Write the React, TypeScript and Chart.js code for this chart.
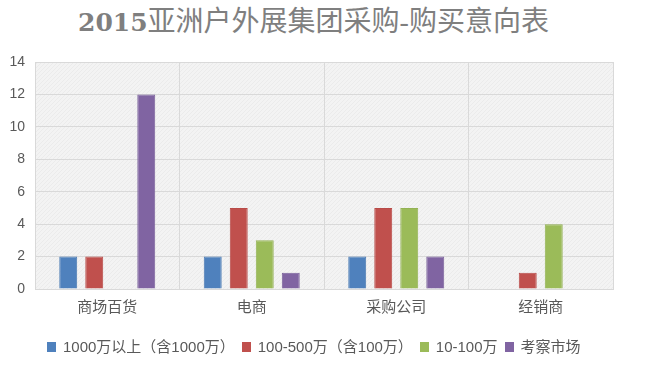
import React, { useEffect, useRef } from "react";
import { Chart, registerables } from "chart.js";

Chart.register(...registerables);

const TITLE_YEAR = "2015";
const TITLE_REST = "亚洲户外展集团采购-购买意向表";
const categories = ["商场百货", "电商", "采购公司", "经销商"];
const seriesNames = ["1000万以上（含1000万）", "100-500万（含100万）", "10-100万", "考察市场"];
const seriesColors = ["#4f81bd", "#c0504d", "#9bbb59", "#8064a2"];
const seriesBorders = ["#4a7ab3", "#b84b48", "#93b254", "#79609a"];
const over1000 = [2, 2, 2, null];
const from100to500 = [2, 5, 5, 1];
const from10to100 = [null, 3, 5, 4];
const inspecting = [12, 1, 2, null];
const seriesValues = [over1000, from100to500, from10to100, inspecting];
const yMin = 0;
const yMax = 14;
const yStep = 2;

const FONT = "'Liberation Sans', 'Noto Sans CJK SC', sans-serif";

function makePattern(ctx: CanvasRenderingContext2D) {
  const c = document.createElement("canvas");
  c.width = 4;
  c.height = 4;
  const p = c.getContext("2d")!;
  p.fillStyle = "#f3f3f3";
  p.fillRect(0, 0, 4, 4);
  p.fillStyle = "#ebebeb";
  for (let i = 0; i < 4; i++) p.fillRect(i, 3 - i, 1, 1);
  return ctx.createPattern(c, "repeat");
}

const plotBg = {
  id: "plotBg",
  beforeDraw(chart: any) {
    const { ctx, chartArea } = chart;
    if (!chartArea) return;
    ctx.save();
    ctx.fillStyle = makePattern(ctx) || "#f2f2f2";
    ctx.fillRect(chartArea.left, chartArea.top, chartArea.right - chartArea.left, chartArea.bottom - chartArea.top);
    ctx.restore();
  },
};

export default function App() {
  const ref = useRef<HTMLCanvasElement | null>(null);
  useEffect(() => {
    if (!ref.current) return;
    const chart = new Chart(ref.current, {
      type: "bar",
      data: {
        labels: categories,
        datasets: seriesNames.map((name, i) => ({
          label: name,
          data: seriesValues[i] as any,
          backgroundColor: seriesColors[i],
          borderColor: seriesBorders[i],
          borderWidth: 1,
          categoryPercentage: 0.72,
          barPercentage: 0.69,
        })),
      },
      options: {
        animation: false,
        responsive: false,
        maintainAspectRatio: false,
        layout: { padding: { left: 0, right: 37, top: 62, bottom: 56 } },
        plugins: {
          legend: { display: false },
          title: { display: false },
          tooltip: { enabled: false },
        },
        scales: {
          x: {
            offset: true,
            grid: { color: "#d9d9d9", offset: true, drawTicks: false, lineWidth: 1 },
            border: { color: "#d9d9d9" },
            ticks: { color: "#595959", font: { family: FONT, size: 15 }, padding: 10 },
            afterFit(scale: any) {
              scale.height = 28;
            },
          },
          y: {
            min: yMin,
            max: yMax,
            grid: { color: "#d9d9d9", drawTicks: false },
            border: { color: "#d9d9d9" },
            ticks: { stepSize: yStep, color: "#595959", font: { family: FONT, size: 14 }, padding: 10 },
            afterFit(scale: any) {
              scale.width = 35;
            },
          },
        },
      },
      plugins: [plotBg],
    });
    return () => chart.destroy();
  }, []);

  return (
    <div style={{ position: "fixed", left: 0, top: 0, width: 650, height: 373, background: "#fff", overflow: "hidden" }}>
      <div
        style={{
          position: "absolute",
          left: 78,
          top: 6,
          lineHeight: "32px",
          color: "#7f7f7f",
          whiteSpace: "nowrap",
        }}
      >
        <span style={{ fontFamily: "'DejaVu Serif', serif", fontSize: 25, fontWeight: "bold" }}>{TITLE_YEAR}</span>
        <span style={{ fontFamily: "'Liberation Serif', 'Noto Sans CJK SC', serif", fontSize: 28, fontWeight: "normal" }}>
          {TITLE_REST}
        </span>
      </div>
      <canvas ref={ref} width={650} height={373} style={{ position: "absolute", left: 0, top: 0 }} />
      <div
        style={{
          position: "absolute",
          left: 47,
          top: 338,
          display: "flex",
          alignItems: "center",
          fontFamily: FONT,
          fontSize: 15,
          color: "#595959",
          whiteSpace: "nowrap",
          lineHeight: "18px",
        }}
      >
        {seriesNames.map((name, i) => (
          <div key={name} style={{ display: "flex", alignItems: "center", marginRight: 7 }}>
            <span style={{ display: "inline-block", width: 9, height: 10, background: seriesColors[i], marginRight: 7 }} />
            <span>{name}</span>
          </div>
        ))}
      </div>
    </div>
  );
}
